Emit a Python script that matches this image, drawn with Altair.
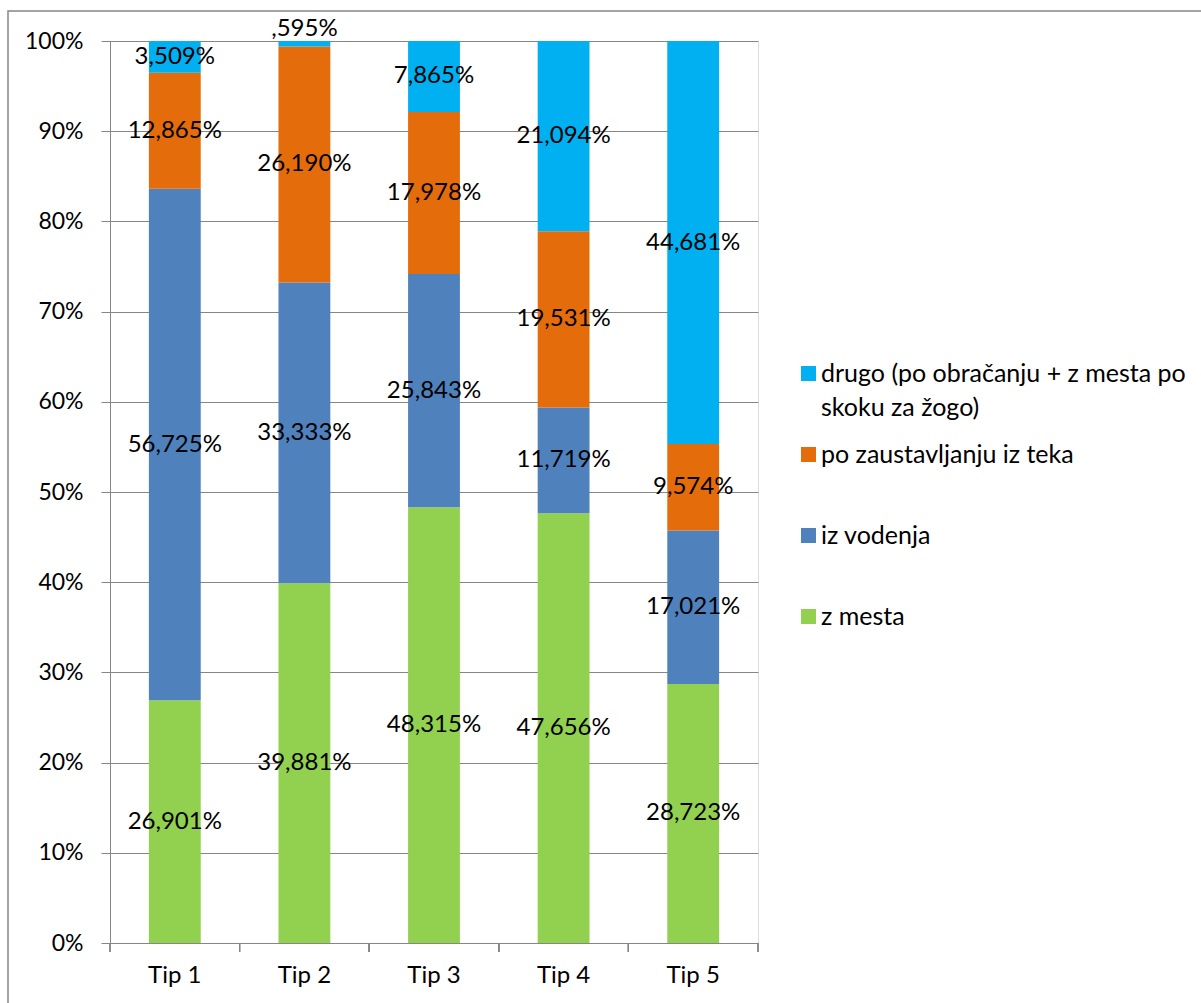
import altair as alt
import pandas as pd

# Shot types per player type, shares in percent (each column sums to 100)
categories = ["Tip 1", "Tip 2", "Tip 3", "Tip 4", "Tip 5"]
series = [
    "z mesta",
    "iz vodenja",
    "po zaustavljanju iz teka",
    "drugo (po obračanju + z mesta po skoku za žogo)",
]
z_mesta = [26.901, 39.881, 48.315, 47.656, 28.723]
iz_vodenja = [56.725, 33.333, 25.843, 11.719, 17.021]
po_zaustavljanju = [12.865, 26.190, 17.978, 19.531, 9.574]
drugo = [3.509, 0.595, 7.865, 21.094, 44.681]
colors = ["#92D050", "#4F81BD", "#E46C0A", "#00B0F0"]
y_ticks = list(range(0, 101, 10))

W, H = 648, 902
FONT = "Lato"
GRID = "#868686"


def pct_label(v):
    return f"{v:.3f}".replace(".", ",").lstrip("0") + "%"


rows = []
for si, (name, vals) in enumerate(zip(series, [z_mesta, iz_vodenja, po_zaustavljanju, drugo])):
    for cat, v in zip(categories, vals):
        rows.append({"cat": cat, "series": name, "order": si, "val": v, "label": pct_label(v)})
df = pd.DataFrame(rows)

legend_order = list(reversed(series))
legend_colors = list(reversed(colors))

base = alt.Chart(df).transform_stack(
    stack="val", groupby=["cat"], as_=["y0", "y1"], sort=[alt.SortField("order")]
).transform_calculate(mid="(datum.y0 + datum.y1) / 2")

x_enc = alt.X(
    "cat:N",
    sort=categories,
    scale=alt.Scale(paddingInner=0, paddingOuter=0),
    axis=alt.Axis(
        title=None, ticks=False, domain=True, domainColor=GRID, domainWidth=1,
        labelFont=FONT, labelFontSize=24, labelColor="black", labelPadding=20,
        labelAngle=0,
    ),
)
y_scale = alt.Scale(domain=[0, 100], nice=False)

# every legend label is given two lines so that the entries are evenly spaced
legend_label_expr = (
    "datum.label == '" + series[3] + "' ? "
    "['drugo (po obračanju + z mesta po', 'skoku za žogo)'] : [datum.label, ' ']"
)

bars = base.mark_bar(width=alt.RelativeBandSize(0.4)).encode(
    x=x_enc,
    y=alt.Y(
        "y0:Q",
        scale=y_scale,
        axis=alt.Axis(
            title=None, values=y_ticks, labelExpr="datum.value + '%'",
            grid=True, gridColor=GRID, gridWidth=1,
            domainColor=GRID, tickColor=GRID, tickSize=9, tickWidth=1,
            labelFont=FONT, labelFontSize=23, labelColor="black", labelPadding=18,
        ),
    ),
    y2="y1:Q",
    color=alt.Color(
        "series:N",
        scale=alt.Scale(domain=legend_order, range=legend_colors),
        legend=alt.Legend(
            title=None, orient="none", legendX=686, legendY=320,
            symbolType="square", symbolSize=225, symbolStrokeWidth=0,
            labelFont=FONT, labelFontSize=25, labelLimit=500, labelColor="black",
            labelOffset=0, rowPadding=21,
            labelExpr=legend_label_expr,
        ),
    ),
)

labels_mid = base.transform_filter("datum.val >= 1").mark_text(
    font=FONT, fontSize=24, color="black", baseline="middle"
).encode(x=alt.X("cat:N", sort=categories), y=alt.Y("mid:Q", scale=y_scale), text="label:N")

labels_top = base.transform_filter("datum.val < 1").mark_text(
    font=FONT, fontSize=24, color="black", baseline="bottom"
).encode(x=alt.X("cat:N", sort=categories), y=alt.Y("y1:Q", scale=y_scale), text="label:N")

# category separator ticks under the x axis, at both band edges
tick_start = alt.Chart(df).mark_rule(color=GRID, strokeWidth=1).encode(
    x=alt.X("cat:N", sort=categories, bandPosition=0),
    y=alt.value(H), y2=alt.value(H + 9),
)
tick_end = alt.Chart(df).mark_rule(color=GRID, strokeWidth=1).encode(
    x=alt.X("cat:N", sort=categories, bandPosition=1),
    y=alt.value(H), y2=alt.value(H + 9),
)

# outer chart-area frame
frame = alt.Chart(pd.DataFrame({"f": [0]})).mark_rect(
    filled=False, stroke=GRID, strokeWidth=1.5
).encode(x=alt.value(-102), x2=alt.value(1100), y=alt.value(-30), y2=alt.value(1000))

chart = alt.layer(frame, bars, labels_mid, labels_top, tick_start, tick_end).properties(
    width=W, height=H,
    autosize=alt.AutoSizeParams(type="none"),
    padding={"left": 110, "top": 41, "right": 1201 - 110 - W, "bottom": 1003 - 41 - H},
).configure_view(stroke=None).configure(
    background="white",
    style={"guide-label": {"lineHeight": 34}},
)

chart.save("out.html", embed_options={"renderer": "svg", "actions": False})
